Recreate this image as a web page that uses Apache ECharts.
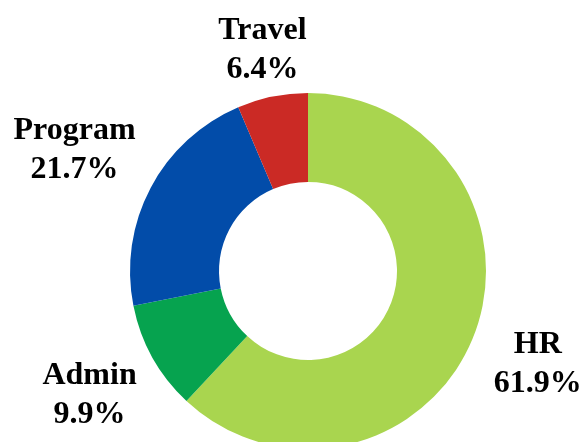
<!DOCTYPE html>
<html>
<head>
<meta charset="utf-8">
<script src="https://cdn.jsdelivr.net/npm/echarts@6/dist/echarts.min.js"></script>
<style>
  html, body { margin: 0; padding: 0; background: #fff; }
  #chart { width: 582px; height: 442px; }
</style>
</head>
<body>
<div id="chart"></div>
<script>
// data, clockwise from 12 o'clock
const categories = ['HR', 'Admin', 'Program', 'Travel']
const shares = [61.9, 9.9, 21.7, 6.4]
const colors = ['#a9d54f', '#06a34f', '#024ca9', '#cb2a25']
// how far each label sits from the centre (px)
const labelDist = [247, 250, 264, 228]

const cx = 308
const cy = 271

const total = shares.reduce((a, b) => a + b, 0)
const midAngles = []
let acc = 0
shares.forEach(v => {
  const mid = acc + v / 2
  midAngles.push((90 - (mid / total) * 360) * Math.PI / 180)
  acc += v
})

const chart = echarts.init(document.getElementById('chart'))

chart.setOption({
  backgroundColor: '#fff',
  animation: false,
  series: [
    {
      type: 'pie',
      center: [cx, cy],
      radius: [89, 178],
      startAngle: 90,
      clockwise: true,
      avoidLabelOverlap: false,
      itemStyle: { borderWidth: 0 },
      label: {
        show: true,
        position: 'outside',
        formatter: '{b}\n{c}%',
        fontFamily: '"Liberation Serif", "Times New Roman", serif',
        fontWeight: 'bold',
        fontSize: 32,
        lineHeight: 39,
        color: '#000',
        align: 'center',
      },
      labelLine: { show: false },
      labelLayout: (params) => {
        const i = params.dataIndex
        return {
          x: cx + labelDist[i] * Math.cos(midAngles[i]),
          y: cy - labelDist[i] * Math.sin(midAngles[i]) + 3,
          align: 'center',
          verticalAlign: 'middle',
        }
      },
      data: categories.map((name, i) => ({
        name,
        value: shares[i],
        itemStyle: { color: colors[i] },
      })),
    },
  ],
})
</script>
</body>
</html>
